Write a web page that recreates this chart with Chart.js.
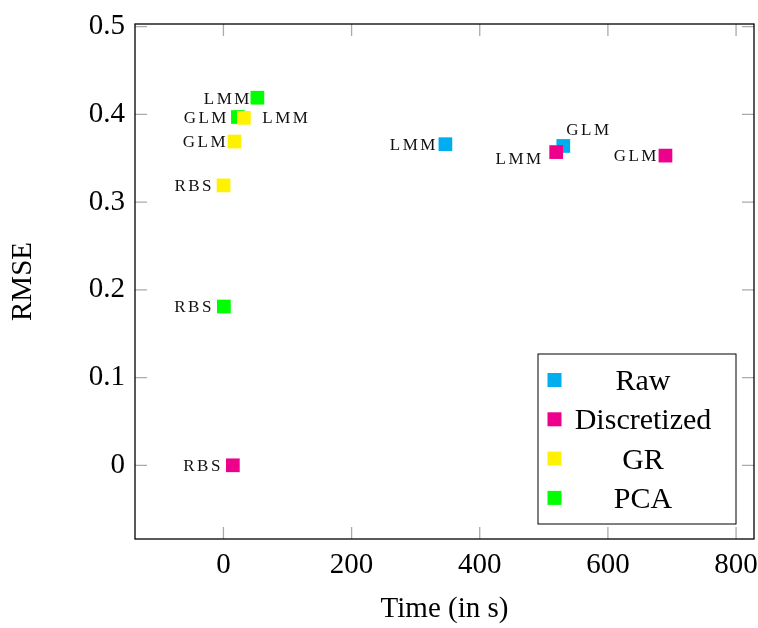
<!DOCTYPE html>
<html lang="en">
<head>
  <meta charset="UTF-8">
  <title>RMSE vs Time</title>
  <script src="https://cdn.jsdelivr.net/npm/chart.js"></script>
  <style>
    html, body { margin: 0; padding: 0; background: #fff; overflow: hidden; }
    canvas { display: block; }
  </style>
</head>
<body>
  <canvas id="rmseChart" width="758" height="628"></canvas>
  <script>
    // Data
    const seriesNames = ['Raw', 'Discretized', 'GR', 'PCA'];
    const rawTime = [346.4, 530.4];
    const rawRmse = [0.366, 0.364];
    const rawMethods = ['LMM', 'GLM'];
    const discTime = [519.3, 689.8, 14.7];
    const discRmse = [0.357, 0.353, 0.0];
    const discMethods = ['LMM', 'GLM', 'RBS'];
    const grTime = [31.9, 17.3, 0.2];
    const grRmse = [0.396, 0.369, 0.319];
    const grMethods = ['LMM', 'GLM', 'RBS'];
    const pcaTime = [53.0, 22.6, 0.7];
    const pcaRmse = [0.419, 0.397, 0.181];
    const pcaMethods = ['LMM', 'GLM', 'RBS'];
    const xTicks = [0, 200, 400, 600, 800];
    const yTicks = [0, 0.1, 0.2, 0.3, 0.4, 0.5];

    const colors = ['rgb(0,174,239)', 'rgb(236,0,140)', 'rgb(255,242,0)', 'rgb(0,255,0)'];

    // where each point label sits: [dx, dy, side] ('l' = text ends left of point, 'r' = starts right)
    const labelPlacement = [
      [[-10, 0, 'l'], [3, -17, 'r']],
      [[-15, 6, 'l'], [-9, 0, 'l'], [-12.5, 0, 'l']],
      [[18.5, 0, 'r'], [-9, 0, 'l'], [-12, 0, 'l']],
      [[-8, 1, 'l'], [-11.5, 0, 'l'], [-12.5, 0, 'l']]
    ];

    const toPoints = (xs, ys) => xs.map((x, i) => ({ x: x, y: ys[i] }));
    const seriesPoints = [
      toPoints(rawTime, rawRmse),
      toPoints(discTime, discRmse),
      toPoints(grTime, grRmse),
      toPoints(pcaTime, pcaRmse)
    ];
    const seriesMethods = [rawMethods, discMethods, grMethods, pcaMethods];
    const drawOrder = [2, 1, 0, 3]; // lower = on top

    Chart.defaults.font.family = "'Liberation Serif', serif";
    Chart.defaults.color = '#000';

    // inward ticks, frame, point labels and a centred legend like pgfplots
    const pgfLook = {
      id: 'pgfLook',
      afterDatasetsDraw(chart) {
        const ctx = chart.ctx;
        const a = chart.chartArea;
        const xs = chart.scales.x, ys = chart.scales.y;
        ctx.save();

        // tick marks on all four sides
        ctx.strokeStyle = '#aaa';
        ctx.lineWidth = 1.3;
        ctx.beginPath();
        xTicks.forEach(v => {
          const px = xs.getPixelForValue(v);
          ctx.moveTo(px, a.bottom); ctx.lineTo(px, a.bottom - 12);
          ctx.moveTo(px, a.top); ctx.lineTo(px, a.top + 12);
        });
        yTicks.forEach(v => {
          const py = ys.getPixelForValue(v);
          ctx.moveTo(a.left, py); ctx.lineTo(a.left + 12, py);
          ctx.moveTo(a.right, py); ctx.lineTo(a.right - 12, py);
        });
        ctx.stroke();

        // frame
        ctx.strokeStyle = '#000';
        ctx.lineWidth = 1.3;
        ctx.strokeRect(a.left, a.top, a.right - a.left, a.bottom - a.top);

        // point labels
        ctx.font = "17px 'Liberation Serif'";
        ctx.letterSpacing = '2.5px';
        ctx.fillStyle = '#111';
        ctx.textBaseline = 'alphabetic';
        seriesPoints.forEach((pts, s) => {
          pts.forEach((p, i) => {
            const cx = xs.getPixelForValue(p.x);
            const cy = ys.getPixelForValue(p.y);
            const [dx, dy, side] = labelPlacement[s][i];
            const txt = seriesMethods[s][i];
            const w = ctx.measureText(txt).width - 2.5;
            const tx = side === 'l' ? cx + dx - w : cx + dx;
            ctx.fillText(txt, tx, cy + dy + 5.6);
          });
        });
        ctx.letterSpacing = '0px';

        // legend
        const lw = 198, lh = 170;
        const lx = a.right - 18 - lw, ly = a.bottom - 15 - lh;
        ctx.fillStyle = '#fff';
        ctx.fillRect(lx, ly, lw, lh);
        ctx.strokeStyle = '#000';
        ctx.lineWidth = 1;
        ctx.strokeRect(lx, ly, lw, lh);
        ctx.font = "30px 'Liberation Serif'";
        ctx.textAlign = 'center';
        ctx.textBaseline = 'alphabetic';
        seriesNames.forEach((name, i) => {
          const rowY = ly + 26 + i * 39.3;
          ctx.fillStyle = colors[i];
          ctx.fillRect(lx + 9.5, rowY - 7, 14, 14);
          ctx.fillStyle = '#000';
          ctx.fillText(name, lx + 105, rowY + 10);
        });
        ctx.restore();
      }
    };

    new Chart(document.getElementById('rmseChart'), {
      type: 'scatter',
      data: {
        datasets: seriesNames.map((name, i) => ({
          label: name,
          data: seriesPoints[i],
          order: drawOrder[i],
          backgroundColor: colors[i],
          borderColor: colors[i],
          borderWidth: 0,
          pointStyle: 'rect',
          pointRadius: 9.7,
          pointHoverRadius: 9.7
        }))
      },
      options: {
        responsive: false,
        animation: false,
        layout: { autoPadding: false, padding: { top: 24, right: 4, left: 0, bottom: 0 } },
        plugins: {
          legend: { display: false },
          tooltip: { enabled: false }
        },
        scales: {
          x: {
            type: 'linear',
            min: -138,
            max: 828,
            afterBuildTicks: s => { s.ticks = xTicks.map(v => ({ value: v })); },
            afterFit: s => { s.height = 89; s.paddingLeft = 0; s.paddingRight = 0; },
            grid: { display: false, drawTicks: false },
            border: { display: false },
            ticks: { font: { size: 29 }, padding: 9, maxRotation: 0, color: '#000' },
            title: { display: true, text: 'Time (in s)', font: { size: 29 }, padding: { top: 4, bottom: 1 } }
          },
          y: {
            type: 'linear',
            min: -0.084,
            max: 0.503,
            afterBuildTicks: s => { s.ticks = yTicks.map(v => ({ value: v })); },
            afterFit: s => { s.width = 135; s.paddingTop = 0; s.paddingBottom = 0; },
            grid: { display: false, drawTicks: false },
            border: { display: false },
            ticks: {
              font: { size: 29 }, padding: 10, color: '#000',
              callback: v => String(+v.toFixed(1))
            },
            title: { display: true, text: 'RMSE', font: { size: 29 }, padding: { top: 6, bottom: 0 } }
          }
        }
      },
      plugins: [pgfLook]
    });
  </script>
</body>
</html>
